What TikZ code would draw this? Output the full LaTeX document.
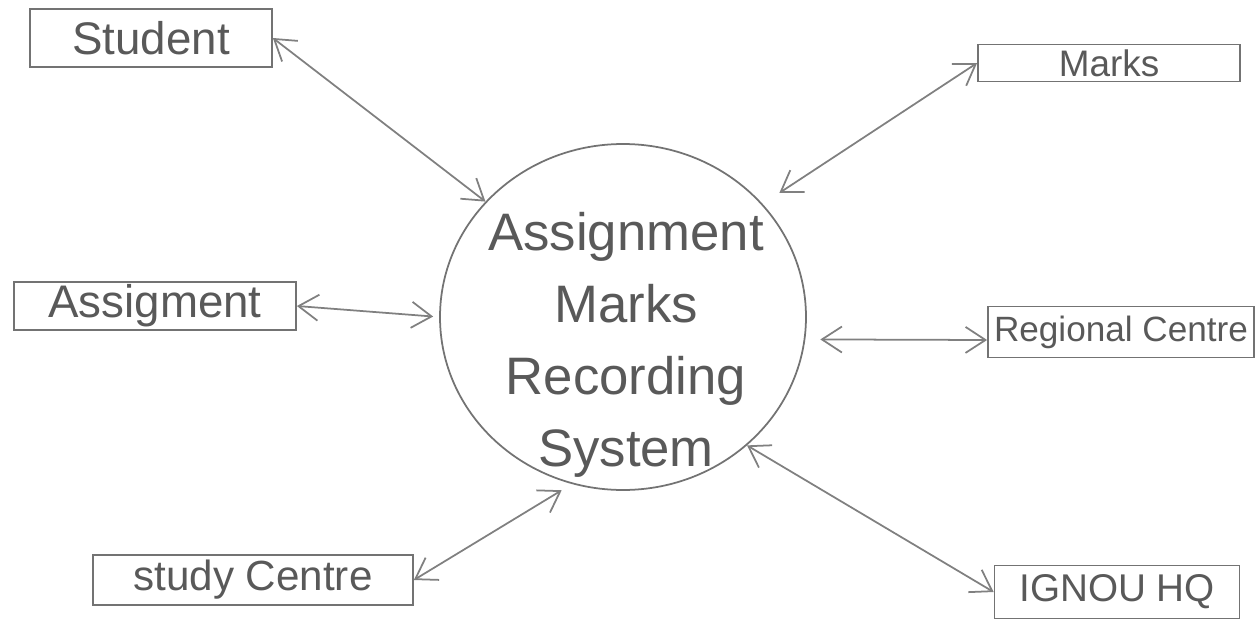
\documentclass[tikz,border=0pt]{standalone}
\usepackage{fontspec}
\setmainfont{Liberation Sans}
\usetikzlibrary{shapes.geometric,arrows.meta}

\begin{document}
\begin{tikzpicture}[x=0.1mm,y=-0.1mm,
    entity/.style={draw=black!55, line width=0.5pt, text=black!65, font=\fontsize{13}{15}\selectfont, inner sep=0pt},
    link/.style={draw=black!50, line width=0.5pt, {Straight Barb[length=2mm,width=2.6mm]}-{Straight Barb[length=2mm,width=2.6mm]}}]
    \useasboundingbox (0,0) rectangle (1257,623);
    % central process
    \node[draw=black!55, line width=0.5pt, ellipse, minimum width=36.6mm, minimum height=34.6mm] (sys) at (623,317) {};
    \node[text=black!65, font=\fontsize{15}{20.5}\selectfont, align=center] (sysname) at (626,345) {Assignment\\Marks\\Recording\\System};
    % external entities
    \node[entity, minimum width=24.2mm, minimum height=5.8mm] (student) at (151,38) {Student};
    \node[entity, minimum width=26.2mm, minimum height=3.7mm, font=\fontsize{10.5}{12}\selectfont] (marks) at (1109,63) {Marks};
    \node[entity, minimum width=28.2mm, minimum height=4.8mm] (assig) at (155,306) {Assigment};
    \node[entity, minimum width=26.6mm, minimum height=5.1mm, font=\fontsize{10}{12}\selectfont] (regional) at (1121,332) {Regional Centre};
    \node[entity, minimum width=32mm, minimum height=5mm, font=\fontsize{12}{14}\selectfont] (study) at (253,580) {study Centre};
    \node[entity, minimum width=24.5mm, minimum height=5.3mm, font=\fontsize{11}{13}\selectfont] (ignou) at (1117,592) {IGNOU HQ};
    % data flows
    \draw[link] (student.east) -- (sys.140);
    \draw[link, shorten >=2mm] (marks.west) -- (sys.39);
    \draw[link, shorten >=0.6mm] (assig.east) -- (sys.west);
    \draw[link, shorten <=1.5mm] (sys.-7) -- ([yshift=-0.8mm]regional.west);
    \draw[link, shorten >=1.2mm] (study.east) -- (sys.-107);
    \draw[link] (sys.-46) -- (ignou.west);
\end{tikzpicture}
\end{document}
